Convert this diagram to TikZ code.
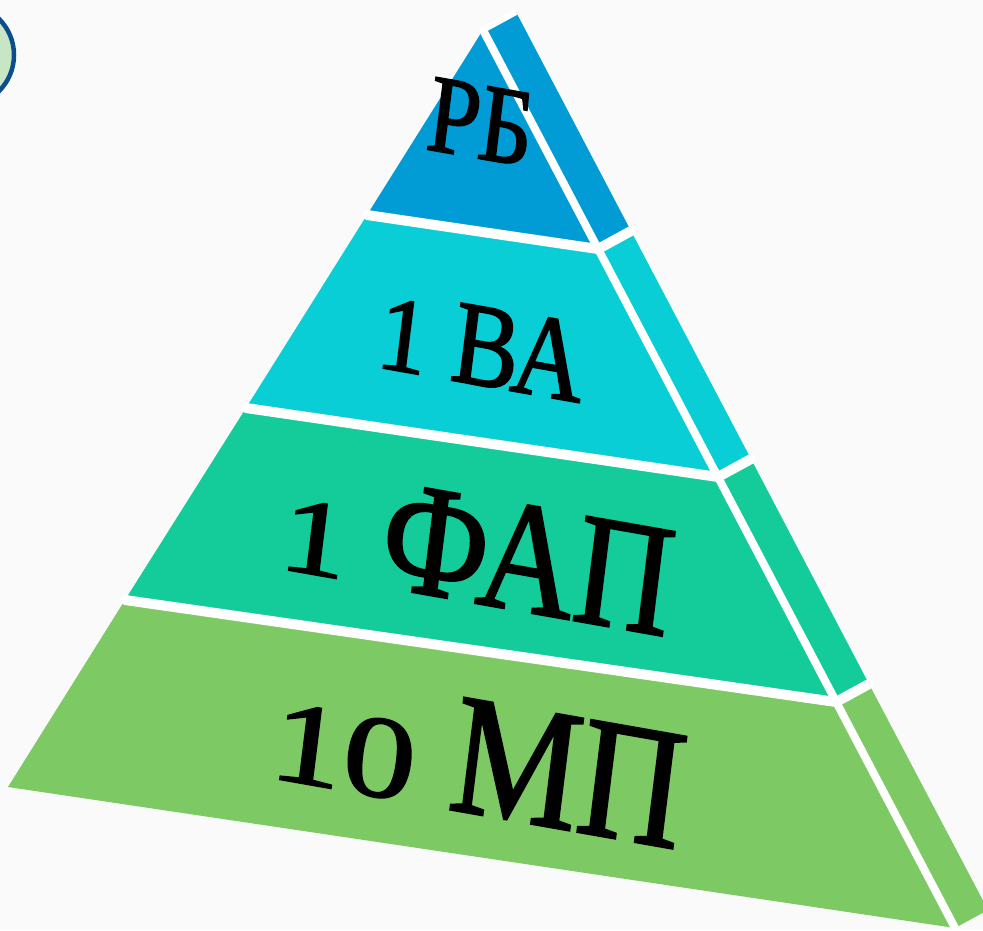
\documentclass[tikz,border=0pt]{standalone}
\usepackage{fontspec}
\usepackage{graphicx}
\usetikzlibrary{calc}
\setmainfont{Liberation Serif}
\newfontfamily\tierfont{Liberation Serif}[FakeBold=1.6]
\definecolor{cBlue}{HTML}{019BD5}
\definecolor{cCyan}{HTML}{0ACED6}
\definecolor{cTeal}{HTML}{13CC99}
\definecolor{cGreen}{HTML}{7DC963}
\definecolor{cCircFill}{HTML}{C8E6C3}
\definecolor{cCircLine}{HTML}{0C4E8C}
\definecolor{cBg}{HTML}{FAFAFA}
\newcommand{\osn}[2][0.68]{\scalebox{1}[#1]{#2}}
\tikzset{
  gap/.style={draw=white, line width=10pt, line cap=round, line join=round},
  tierlabel/.style={inner sep=0pt, xscale=0.84, rotate=-8.4, text=black},
}
\begin{document}
\begin{tikzpicture}[x=1pt,y=-1pt]
\useasboundingbox (0,0) rectangle (983,930);
\fill[cBg] (0,0) rectangle (983,930);
\begin{scope}
\clip (0,0) rectangle (983,930);
% circle at top-left
\node[circle, draw=cCircLine, line width=4.5pt, fill=cCircFill, minimum size=102pt, inner sep=0pt] (circ) at (-37,55) {};
% front face points
\coordinate (A) at (483,30);
\coordinate (L1) at (367,215);
\coordinate (R1) at (598,249);
\coordinate (L2) at (246,408);
\coordinate (R2) at (718,477);
\coordinate (L3) at (125,600);
\coordinate (R3) at (836,702);
\coordinate (BL) at (8,787);
\coordinate (BR) at (955,928);
% side face offset points
\coordinate (SA) at ($(A)+(33,-18)$);
\coordinate (S1) at ($(R1)+(33,-18)$);
\coordinate (S2) at ($(R2)+(33,-18)$);
\coordinate (S3) at ($(R3)+(33,-18)$);
\coordinate (SB) at ($(BR)+(33,-18)$);
% front tiers
\fill[cBlue] (A) -- (R1) -- (L1) -- cycle;
\fill[cCyan] (L1) -- (R1) -- (R2) -- (L2) -- cycle;
\fill[cTeal] (L2) -- (R2) -- (R3) -- (L3) -- cycle;
\fill[cGreen] (L3) -- (R3) -- (BR) -- (BL) -- cycle;
% side tiers
\fill[cBlue] (A) -- (SA) -- (S1) -- (R1) -- cycle;
\fill[cCyan] (R1) -- (S1) -- (S2) -- (R2) -- cycle;
\fill[cTeal] (R2) -- (S2) -- (S3) -- (R3) -- cycle;
\fill[cGreen] (R3) -- (S3) -- (SB) -- (BR) -- cycle;
% white gaps
\draw[gap] (L1) -- (R1) -- (S1);
\draw[gap] (L2) -- (R2) -- (S2);
\draw[gap] (L3) -- (R3) -- (S3);
\draw[gap, line width=8pt] (A) -- (BR);
\draw[white, line width=6pt] (A) -- (SA);
\end{scope}
% labels
\node[tierlabel, font=\tierfont\fontsize{111}{120}\selectfont] (rb) at (481,122) {РБ};
\node[tierlabel, font=\tierfont\fontsize{119}{130}\selectfont] (va) at (482,346) {\osn[0.9]{1} ВА};
\node[tierlabel, font=\tierfont\fontsize{160}{170}\selectfont] (fap) at (478,550) {\osn{1} ФАП};
\node[tierlabel, font=\tierfont\fontsize{172}{180}\selectfont] (mp) at (479,758) {\osn{1}\osn{0} МП};
\end{tikzpicture}
\end{document}
